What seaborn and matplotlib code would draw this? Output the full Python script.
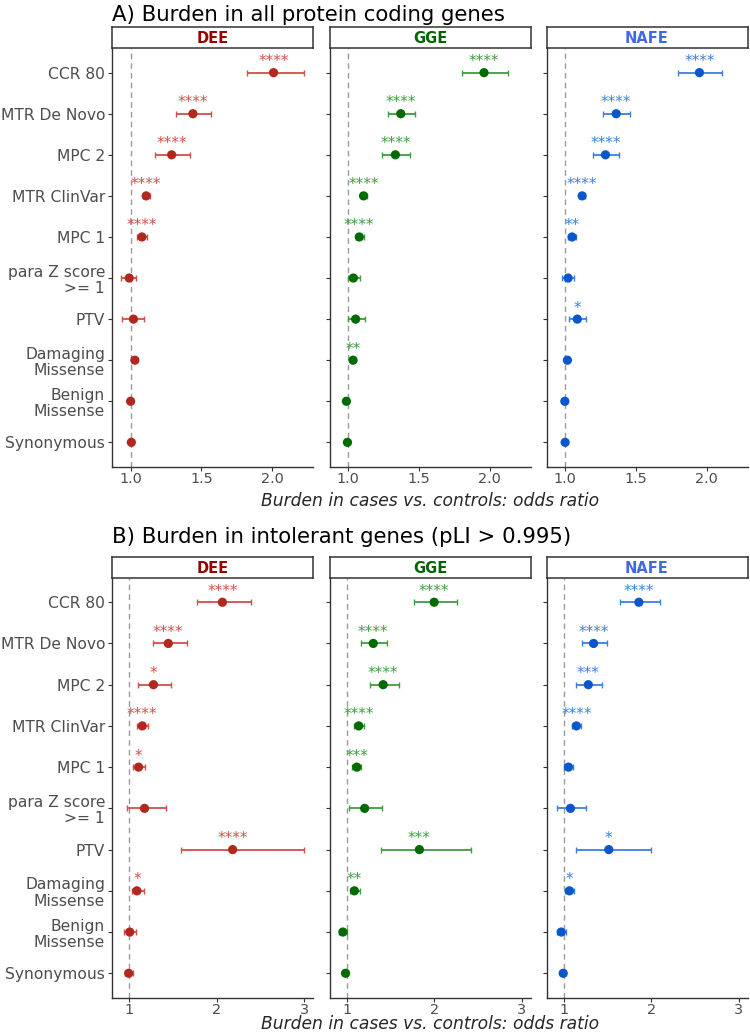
import numpy as np
import pandas as pd
import matplotlib.pyplot as plt
import seaborn as sns

sns.set_theme(style="ticks")
plt.rcParams['font.family'] = ['DejaVu Sans']

# Row order, top to bottom
categories = ["CCR 80", "MTR De Novo", "MPC 2", "MTR ClinVar", "MPC 1",
              "para Z score\n>= 1", "PTV", "Damaging\nMissense",
              "Benign\nMissense", "Synonymous"]
groups = ["DEE", "GGE", "NAFE"]

# A) all protein coding genes
a_dee_or = [2.01, 1.44, 1.29, 1.11, 1.08, 0.99, 1.02, 1.03, 1.00, 1.005]
a_dee_lo = [1.82, 1.32, 1.175, 1.085, 1.047, 0.933, 0.942, 1.01, 0.98, 0.99]
a_dee_hi = [2.224, 1.567, 1.42, 1.14, 1.119, 1.04, 1.098, 1.045, 1.01, 1.02]
a_dee_sig = ["****", "****", "****", "****", "****", "", "", "", "", ""]

a_gge_or = [1.96, 1.372, 1.334, 1.109, 1.079, 1.037, 1.053, 1.035, 0.988, 0.995]
a_gge_lo = [1.806, 1.279, 1.242, 1.088, 1.053, 0.998, 0.998, 1.02, 0.975, 0.98]
a_gge_hi = [2.131, 1.474, 1.434, 1.13, 1.109, 1.081, 1.116, 1.05, 1.0, 1.01]
a_gge_sig = ["****", "****", "****", "****", "****", "", "", "**", "", ""]

a_nafe_or = [1.949, 1.361, 1.285, 1.12, 1.049, 1.021, 1.086, 1.016, 0.998, 1.0]
a_nafe_lo = [1.799, 1.271, 1.197, 1.10, 1.023, 0.979, 1.03, 1.0, 0.985, 0.99]
a_nafe_hi = [2.111, 1.461, 1.382, 1.14, 1.074, 1.065, 1.148, 1.03, 1.01, 1.01]
a_nafe_sig = ["****", "****", "****", "****", "**", "", "*", "", "", ""]

# B) intolerant genes (pLI > 0.995)
b_dee_or = [2.066, 1.448, 1.279, 1.151, 1.109, 1.177, 2.183, 1.09, 1.008, 0.996]
b_dee_lo = [1.78, 1.271, 1.098, 1.09, 1.045, 0.974, 1.595, 1.034, 0.944, 0.95]
b_dee_hi = [2.394, 1.659, 1.482, 1.215, 1.177, 1.426, 2.996, 1.166, 1.075, 1.045]
b_dee_sig = ["****", "****", "*", "****", "*", "", "****", "*", "", ""]

b_gge_or = [2.0, 1.305, 1.418, 1.139, 1.117, 1.207, 1.832, 1.09, 0.959, 0.989]
b_gge_lo = [1.772, 1.169, 1.267, 1.087, 1.06, 1.034, 1.392, 1.041, 0.91, 0.962]
b_gge_hi = [2.258, 1.46, 1.595, 1.196, 1.169, 1.407, 2.416, 1.151, 1.004, 1.019]
b_gge_sig = ["****", "****", "****", "****", "***", "", "***", "**", "", ""]

b_nafe_or = [1.86, 1.343, 1.283, 1.147, 1.057, 1.079, 1.517, 1.068, 0.974, 0.996]
b_nafe_lo = [1.649, 1.208, 1.147, 1.094, 1.004, 0.921, 1.147, 1.015, 0.928, 0.962]
b_nafe_hi = [2.098, 1.498, 1.438, 1.2, 1.113, 1.26, 1.996, 1.121, 1.023, 1.03]
b_nafe_sig = ["****", "****", "***", "****", "", "", "*", "*", "", ""]

point_colors = {"DEE": "#B2281F", "GGE": "#006B00", "NAFE": "#0A56CC"}
light_colors = {"DEE": "#CF5148", "GGE": "#3E9E3E", "NAFE": "#3A80DD"}
strip_colors = {"DEE": "#990000", "GGE": "#006400", "NAFE": "#4169E1"}


def build_frame(arrays):
    rows = []
    for g, (orr, lo, hi, sig) in zip(groups, arrays):
        for i, cat in enumerate(categories):
            rows.append(dict(group=g, category=cat, pos=i, OR=orr[i],
                             lo=lo[i], hi=hi[i], sig=sig[i]))
    return pd.DataFrame(rows)


df_a = build_frame([(a_dee_or, a_dee_lo, a_dee_hi, a_dee_sig),
                    (a_gge_or, a_gge_lo, a_gge_hi, a_gge_sig),
                    (a_nafe_or, a_nafe_lo, a_nafe_hi, a_nafe_sig)])
df_b = build_frame([(b_dee_or, b_dee_lo, b_dee_hi, b_dee_sig),
                    (b_gge_or, b_gge_lo, b_gge_hi, b_gge_sig),
                    (b_nafe_or, b_nafe_lo, b_nafe_hi, b_nafe_sig)])

W, H = 750, 1032
fig = plt.figure(figsize=(W / 100, H / 100), dpi=100)

panel_x = [112, 329.5, 546.5]
panel_w = 201


def frac_rect(x, y, w, h):
    return [x / W, 1 - (y + h) / H, w / W, h / H]


def draw_block(df, title, title_y, strip_top, panel_top, panel_bot,
               ticks, ticklabels, xlab_y):
    fig.text(112 / W, 1 - title_y / H, title, fontsize=15.3,
             ha="left", va="center", color="black")
    lo_all, hi_all = df["lo"].min(), df["hi"].max()
    pad = (hi_all - lo_all) * 0.05
    for j, g in enumerate(groups):
        sub = df[df["group"] == g]
        ax = fig.add_axes(frac_rect(panel_x[j], panel_top, panel_w,
                                    panel_bot - panel_top))
        ax.axvline(1, color="#999999", ls=(0, (4, 3)), lw=1, zorder=0)
        ax.errorbar(sub["OR"], sub["pos"],
                    xerr=[sub["OR"] - sub["lo"], sub["hi"] - sub["OR"]],
                    fmt="none", ecolor=light_colors[g], elinewidth=1.3,
                    capsize=2, capthick=1, zorder=2)
        sns.scatterplot(data=sub, x="OR", y="pos", color=point_colors[g],
                        s=44, edgecolor="none", legend=False, ax=ax, zorder=3)
        for _, r in sub.iterrows():
            if r["sig"]:
                ax.annotate(r["sig"], (r["OR"], r["pos"]), xytext=(0, 2.5),
                            textcoords="offset points", ha="center",
                            va="bottom", fontsize=11, color=light_colors[g])
        ax.set_xlim(lo_all - pad, hi_all + pad)
        ax.set_ylim(len(categories) - 1 + 0.6, -0.6)
        ax.set_yticks(range(len(categories)))
        if j == 0:
            ax.set_yticklabels(categories, fontsize=11.2, color="#4D4D4D",
                               linespacing=1.1)
        else:
            ax.set_yticklabels([])
        ax.set_xticks(ticks)
        ax.set_xticklabels(ticklabels, fontsize=10.4, color="#4D4D4D")
        ax.set_xlabel("")
        ax.set_ylabel("")
        sns.despine(ax=ax)
        for s in ["left", "bottom"]:
            ax.spines[s].set_color("#333333")
            ax.spines[s].set_linewidth(1)
        ax.tick_params(axis="y", length=3, width=0.8, color="#333333", pad=2)
        ax.tick_params(axis="x", length=3, width=0.8, color="#333333", pad=0.5)

        sax = fig.add_axes(frac_rect(panel_x[j], strip_top, panel_w,
                                     panel_top - strip_top))
        sax.set_xticks([])
        sax.set_yticks([])
        for s in sax.spines.values():
            s.set_color("#333333")
            s.set_linewidth(1.1)
        sax.text(0.5, 0.45, g, ha="center", va="center", fontsize=10.5,
                 fontweight="bold", color=strip_colors[g],
                 transform=sax.transAxes)
    fig.text((112 + 748) / 2 / W, 1 - xlab_y / H,
             "Burden in cases vs. controls: odds ratio", fontsize=12.3,
             style="italic", ha="center", va="center")


draw_block(df_a, "A) Burden in all protein coding genes", 15,
           27, 48, 467, [1.0, 1.5, 2.0], ["1.0", "1.5", "2.0"], 501)
draw_block(df_b, "B) Burden in intolerant genes (pLI > 0.995)", 537,
           556.5, 577.5, 998, [1, 2, 3], ["1", "2", "3"], 1024)

fig.savefig("out.png", dpi=100)
